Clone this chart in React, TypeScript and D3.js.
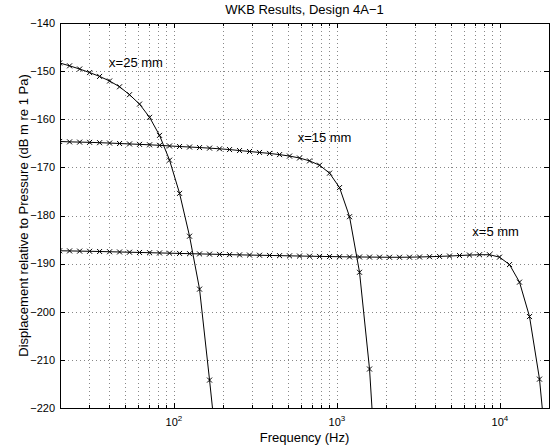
import React, { useEffect, useRef } from "react";
import * as d3 from "d3";

// frequencies of the computed points (Hz)
const freqs = [
  19.9, 22.9, 26.4, 30.4, 35.0, 40.3, 46.4, 53.4, 61.5, 70.9, 81.6, 94.0,
  108.3, 124.7, 143.6, 165.4, 190.5, 219.4, 252.7, 291.0, 335.2, 386.0,
  444.6, 512.0, 589.7, 679.2, 782.2, 900.9, 1037.5, 1194.9, 1376.2, 1585.0,
  1825.4, 2102.3, 2421.2, 2788.5, 3211.6, 3698.8, 4259.9, 4906.1, 5650.4,
  6507.6, 7494.8, 8631.8, 9941.3, 11449.4, 13186.3, 15186.7, 17490.5, 20143.9,
];

// dB m re 1 Pa
const x25 = [
  -148.3, -148.9, -149.56, -150.3, -151.1, -152.05, -153.25, -154.9, -156.85,
  -159.6, -163.35, -168.5, -175.4, -184.3, -195.3, -214.2, -234,
];
const x15 = [
  -164.62, -164.7, -164.75, -164.8, -164.87, -164.95, -165.04, -165.13,
  -165.22, -165.31, -165.42, -165.55, -165.66, -165.77, -165.88, -166.0,
  -166.14, -166.3, -166.5, -166.7, -166.9, -167.1, -167.35, -167.65, -168.05,
  -168.65, -169.55, -171.2, -174.2, -180.25, -191.8, -211.9, -245,
];
const x5 = [
  -187.33, -187.36, -187.4, -187.44, -187.48, -187.53, -187.58, -187.63,
  -187.68, -187.73, -187.78, -187.83, -187.88, -187.93, -187.98, -188.03,
  -188.08, -188.13, -188.18, -188.22, -188.26, -188.3, -188.34, -188.38,
  -188.42, -188.46, -188.5, -188.53, -188.56, -188.6, -188.62, -188.64,
  -188.66, -188.68, -188.68, -188.66, -188.62, -188.56, -188.5, -188.42,
  -188.32, -188.22, -188.15, -188.15, -188.65, -190.2, -193.85, -201.0,
  -214.0, -236,
];

const seriesLabels = ["x=25 mm", "x=15 mm", "x=5 mm"];
const labelFreqs = [40, 574, 6770];
const labelDb = [-149.2, -164.65, -184.3];

const yTicks = [-220, -210, -200, -190, -180, -170, -160, -150, -140];
const xMajor = [100, 1000, 10000];
const xMinor = [
  20, 30, 40, 50, 60, 70, 80, 90, 200, 300, 400, 500, 600, 700, 800, 900,
  2000, 3000, 4000, 5000, 6000, 7000, 8000, 9000, 20000,
];

const App = () => {
  const ref = useRef<SVGSVGElement>(null);

  useEffect(() => {
    const width = 555;
    const height = 447;
    const m = { left: 60, right: 6, top: 23, bottom: 39 };
    const x0 = m.left;
    const x1 = width - m.right;
    const y0 = m.top;
    const y1 = height - m.bottom;
    const font = "'Liberation Sans', Arial, Helvetica, sans-serif";

    const svg = d3.select(ref.current);
    svg.selectAll("*").remove();
    svg.attr("width", width).attr("height", height);

    const x = d3.scaleLog().domain([20, 20000]).range([x0, x1]);
    const y = d3.scaleLinear().domain([-220, -140]).range([y1, y0]);

    svg.append("rect").attr("width", width).attr("height", height).attr("fill", "#fff");

    svg.append("defs").append("clipPath").attr("id", "plotclip")
      .append("rect").attr("x", x0).attr("y", y0)
      .attr("width", x1 - x0).attr("height", y1 - y0);

    // grid
    const grid = svg.append("g")
      .attr("stroke", "#888")
      .attr("stroke-width", 1)
      .attr("stroke-dasharray", "1,3")
      .attr("shape-rendering", "crispEdges");
    grid.selectAll("line.v")
      .data([...xMajor, ...xMinor].filter(d => d > 20 && d < 20000))
      .enter().append("line")
      .attr("x1", d => Math.round(x(d)) + 0.5)
      .attr("x2", d => Math.round(x(d)) + 0.5)
      .attr("y1", y0).attr("y2", y1);
    grid.selectAll("line.h")
      .data(yTicks.slice(1, -1))
      .enter().append("line")
      .attr("y1", d => Math.round(y(d)) + 0.5)
      .attr("y2", d => Math.round(y(d)) + 0.5)
      .attr("x1", x0).attr("x2", x1);

    // curves
    const plot = svg.append("g").attr("clip-path", "url(#plotclip)");
    const line = d3.line<number>()
      .x((d, i) => x(freqs[i]))
      .y(d => y(d));

    [x25, x15, x5].forEach(vals => {
      plot.append("path")
        .attr("d", line(vals))
        .attr("fill", "none")
        .attr("stroke", "#000")
        .attr("stroke-width", 1);
      plot.selectAll(null)
        .data(vals)
        .enter().append("path")
        .attr("transform", (d, i) => `translate(${x(freqs[i])},${y(d)})`)
        .attr("d", "M-2.5,-2.5L2.5,2.5M-2.5,2.5L2.5,-2.5")
        .attr("stroke", "#000")
        .attr("stroke-width", 1)
        .attr("fill", "none");
    });

    // frame and ticks
    const axes = svg.append("g")
      .attr("stroke", "#000")
      .attr("stroke-width", 1)
      .attr("shape-rendering", "crispEdges");
    axes.append("rect")
      .attr("x", x0 + 0.5).attr("y", y0 + 0.5)
      .attr("width", x1 - x0).attr("height", y1 - y0)
      .attr("fill", "none");
    yTicks.forEach(t => {
      const yy = Math.round(y(t)) + 0.5;
      axes.append("line").attr("x1", x0).attr("x2", x0 + 5).attr("y1", yy).attr("y2", yy);
      axes.append("line").attr("x1", x1).attr("x2", x1 - 5).attr("y1", yy).attr("y2", yy);
    });
    const tickX = (vals: number[], len: number) => vals.forEach(t => {
      const xx = Math.round(x(t)) + 0.5;
      axes.append("line").attr("x1", xx).attr("x2", xx).attr("y1", y1).attr("y2", y1 - len);
      axes.append("line").attr("x1", xx).attr("x2", xx).attr("y1", y0).attr("y2", y0 + len);
    });
    tickX(xMajor, 5);
    tickX(xMinor, 3);

    // tick labels
    svg.append("g").selectAll("text")
      .data(yTicks)
      .enter().append("text")
      .attr("x", x0 - 5)
      .attr("y", d => y(d))
      .attr("dy", "0.35em")
      .attr("text-anchor", "end")
      .attr("font-family", font)
      .attr("font-size", 11)
      .text(d => String(d).replace("-", "\u2212"));

    const xl = svg.append("g").selectAll("text")
      .data(xMajor)
      .enter().append("text")
      .attr("x", d => x(d))
      .attr("y", y1 + 18)
      .attr("text-anchor", "middle")
      .attr("font-family", font)
      .attr("font-size", 11);
    xl.append("tspan").text("10");
    xl.append("tspan")
      .attr("dy", -5)
      .attr("font-size", 8)
      .text(d => String(Math.round(Math.log10(d))));

    // titles
    svg.append("text")
      .attr("x", (x0 + x1) / 2)
      .attr("y", 14)
      .attr("text-anchor", "middle")
      .attr("font-family", font)
      .attr("font-size", 13)
      .text("WKB Results, Design 4A\u22121");
    svg.append("text")
      .attr("x", (x0 + x1) / 2)
      .attr("y", height - 5)
      .attr("text-anchor", "middle")
      .attr("font-family", font)
      .attr("font-size", 13)
      .text("Frequency (Hz)");
    svg.append("text")
      .attr("transform", `translate(28,${(y0 + y1) / 2}) rotate(-90)`)
      .attr("text-anchor", "middle")
      .attr("font-family", font)
      .attr("font-size", 13)
      .text("Displacement relative to Pressure (dB m re 1 Pa)");

    // curve labels
    svg.append("g").selectAll("text")
      .data(seriesLabels)
      .enter().append("text")
      .attr("x", (d, i) => x(labelFreqs[i]))
      .attr("y", (d, i) => y(labelDb[i]))
      .attr("font-family", font)
      .attr("font-size", 13)
      .text(d => d);
  }, []);

  return (
    <svg ref={ref} style={{ position: "absolute", left: 0, top: 0, display: "block" }}></svg>
  );
};

export default App;
